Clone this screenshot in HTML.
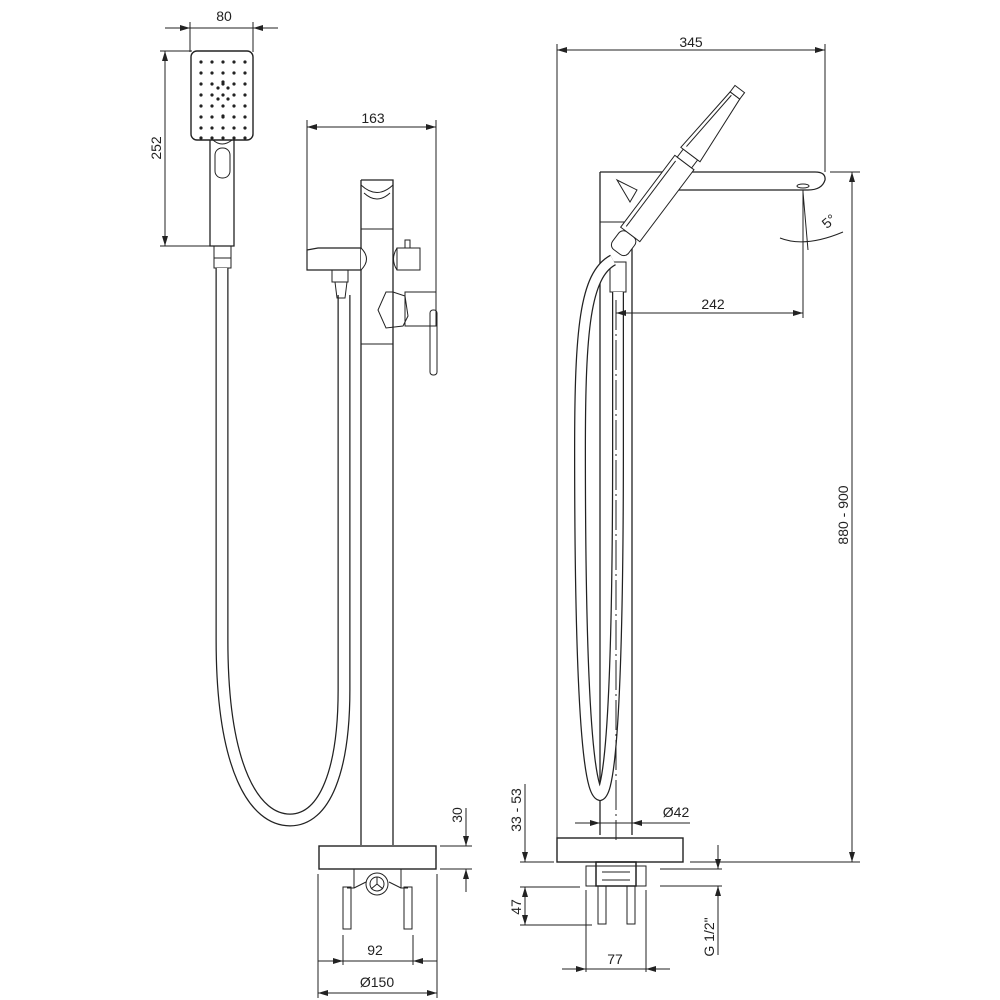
<!DOCTYPE html>
<html><head><meta charset="utf-8"><style>
html,body{margin:0;padding:0;background:#fff}
svg{display:block}
text{font-family:"Liberation Sans",sans-serif;font-size:14px;fill:#222}
</style></head><body>
<svg width="1000" height="1000" viewBox="0 0 1000 1000" xmlns="http://www.w3.org/2000/svg">
<defs>
<marker id="a" viewBox="0 0 10 6" refX="10" refY="3" markerWidth="10" markerHeight="6" orient="auto-start-reverse" markerUnits="userSpaceOnUse"><path d="M0,0 L10,3 L0,6z" fill="#222"/></marker>
</defs>
<g stroke="#222" stroke-width="1" fill="none">
<!-- ===== LEFT VIEW ===== -->
<line x1="190" y1="22" x2="190" y2="52"/><line x1="253" y1="22" x2="253" y2="52"/>
<line x1="165" y1="28" x2="190" y2="28" marker-end="url(#a)"/><line x1="278" y1="28" x2="253" y2="28" marker-end="url(#a)"/>
<line x1="190" y1="28" x2="253" y2="28"/>
<line x1="160" y1="51" x2="192" y2="51"/><line x1="160" y1="246" x2="212" y2="246"/>
<line x1="165" y1="51" x2="165" y2="246" marker-start="url(#a)" marker-end="url(#a)"/>
<rect x="191" y="51" width="62" height="89" rx="6" stroke-width="1.4"/>
<path d="M210,140 L210,246 L234,246 L234,140" stroke-width="1.3"/>
<path d="M213,140 Q222,148 232,140"/>
<rect x="215" y="148" width="15" height="30" rx="7"/>
<rect x="214" y="246" width="17" height="22"/>
<line x1="214" y1="258" x2="231" y2="258"/>
<path d="M222,268 L222,640 C222,770 255,820 290,820 C325,820 344,770 344,690 L344,295" stroke-width="13" stroke="#222"/>
<path d="M222,268 L222,640 C222,770 255,820 290,820 C325,820 344,770 344,690 L344,295" stroke-width="10.5" stroke="#fff"/>
<line x1="307" y1="120" x2="307" y2="250"/><line x1="436" y1="120" x2="436" y2="292"/>
<line x1="307" y1="127" x2="436" y2="127" marker-start="url(#a)" marker-end="url(#a)"/>
<path d="M361,180 L393,180 L393,845 M361,180 L361,845" stroke-width="1.3"/>
<path d="M361,185 Q377,200 393,185"/><path d="M364,193 Q377,205 390,193"/>
<line x1="361" y1="229" x2="393" y2="229"/><line x1="361" y1="344" x2="393" y2="344"/>
<path d="M307,250 L318,248 L361,248 L361,270 L318,270 L307,270z" stroke-width="1.2"/>
<path d="M361,248 Q372,259 361,270" fill="#fff"/>
<rect x="332" y="270" width="16" height="12"/><path d="M335,282 L337,298 L345,298 L347,282"/>
<rect x="397" y="248" width="23" height="22"/><rect x="405" y="240" width="5" height="8"/>
<path d="M397,248 Q390,259 397,270"/>
<path d="M393,292 L386,292 L378,310 L386,328 L403,326 L408,316 L405,296z"/>
<rect x="405" y="292" width="31" height="34"/>
<rect x="430" y="310" width="7" height="65" rx="3"/>
<rect x="319" y="846" width="117" height="23" stroke-width="1.4"/>
<path d="M354,869 L354,888 L347,888 M401,869 L401,888 L408,888 M354,888 L366,882 M401,888 L389,882"/>
<circle cx="377" cy="884" r="11"/><circle cx="377" cy="884" r="7"/>
<line x1="377" y1="877" x2="377" y2="884"/><line x1="377" y1="884" x2="371" y2="889"/><line x1="377" y1="884" x2="383" y2="889"/>
<rect x="343" y="887" width="8" height="42"/><rect x="404" y="887" width="8" height="42"/>
<line x1="440" y1="846" x2="472" y2="846"/><line x1="440" y1="869" x2="472" y2="869"/>
<line x1="466" y1="808" x2="466" y2="846" marker-end="url(#a)"/><line x1="466" y1="892" x2="466" y2="869" marker-end="url(#a)"/>
<line x1="343" y1="935" x2="343" y2="965"/><line x1="413" y1="935" x2="413" y2="965"/>
<line x1="318" y1="874" x2="318" y2="998"/><line x1="437" y1="874" x2="437" y2="998"/>
<line x1="318" y1="961" x2="343" y2="961" marker-end="url(#a)"/><line x1="437" y1="961" x2="413" y2="961" marker-end="url(#a)"/>
<line x1="343" y1="961" x2="413" y2="961"/>
<line x1="318" y1="993" x2="437" y2="993" marker-start="url(#a)" marker-end="url(#a)"/>

<!-- ===== RIGHT VIEW ===== -->
<line x1="557" y1="44" x2="557" y2="848"/><line x1="825" y1="44" x2="825" y2="172"/>
<line x1="557" y1="50" x2="825" y2="50" marker-start="url(#a)" marker-end="url(#a)"/>
<path d="M600,172 L815,172 Q826,172 825,180 Q822,190 808,190 L668,190" stroke-width="1.3"/>
<path d="M600,172 L600,835 M632,222 L632,835" stroke-width="1.3"/>
<line x1="600" y1="222" x2="632" y2="222"/>
<path d="M617,180 L637,190 L630,202z"/>
<ellipse cx="803" cy="186" rx="6" ry="2"/>
<g transform="translate(617,252) rotate(-53)" fill="#fff">
<rect x="0" y="-10" width="22" height="20" rx="6"/>
<rect x="22" y="-12" width="90" height="24"/>
<line x1="26" y1="-8" x2="108" y2="-8"/>
<rect x="112" y="-9" width="10" height="18"/>
<path d="M122,-12 L196,-6 L196,6 L122,12z"/>
<line x1="126" y1="-8" x2="194" y2="-3"/>
<rect x="196" y="-6" width="8" height="12"/>
</g>
<rect x="610" y="262" width="16" height="30"/>
<path d="M613,260 C585,275 580,330 580,450 C580,600 583,790 600,795 C615,790 618,600 618,450 L618,292" stroke-width="12"/>
<path d="M613,260 C585,275 580,330 580,450 C580,600 583,790 600,795 C615,790 618,600 618,450 L618,292" stroke-width="9.5" stroke="#fff"/>
<line x1="616" y1="300" x2="616" y2="840" stroke-dasharray="30,4,2,4"/>
<line x1="803" y1="190" x2="803" y2="318"/>
<line x1="616" y1="313" x2="803" y2="313" marker-start="url(#a)" marker-end="url(#a)"/>
<line x1="803" y1="192" x2="808" y2="250"/>
<path d="M780,238 Q805,248 843,232" />
<line x1="830" y1="172" x2="860" y2="172"/><line x1="690" y1="862" x2="860" y2="862"/>
<line x1="852" y1="172" x2="852" y2="862" marker-start="url(#a)" marker-end="url(#a)"/>
<rect x="557" y="838" width="126" height="24" stroke-width="1.4"/>
<line x1="575" y1="823" x2="600" y2="823" marker-end="url(#a)"/><line x1="690" y1="823" x2="632" y2="823" marker-end="url(#a)"/>
<line x1="600" y1="823" x2="632" y2="823"/>
<rect x="586" y="866" width="60" height="20"/>
<rect x="596" y="862" width="40" height="24" stroke-width="1.5"/>
<line x1="602" y1="872" x2="630" y2="872"/><line x1="602" y1="880" x2="630" y2="880"/>
<rect x="598" y="886" width="8" height="38"/><rect x="627" y="886" width="8" height="38"/>
<line x1="520" y1="862" x2="554" y2="862"/><line x1="520" y1="887" x2="580" y2="887"/><line x1="520" y1="925" x2="592" y2="925"/>
<line x1="525" y1="784" x2="525" y2="862" marker-end="url(#a)"/>
<line x1="525" y1="887" x2="525" y2="925" marker-start="url(#a)" marker-end="url(#a)"/>
<line x1="660" y1="869" x2="722" y2="869"/><line x1="660" y1="886" x2="722" y2="886"/><line x1="690" y1="862" x2="740" y2="862"/>
<line x1="718" y1="845" x2="718" y2="869" marker-end="url(#a)"/><line x1="718" y1="955" x2="718" y2="886" marker-end="url(#a)"/>
<line x1="586" y1="890" x2="586" y2="972"/><line x1="646" y1="890" x2="646" y2="972"/>
<line x1="562" y1="969" x2="586" y2="969" marker-end="url(#a)"/><line x1="670" y1="969" x2="646" y2="969" marker-end="url(#a)"/>
<line x1="586" y1="969" x2="646" y2="969"/>
</g>
<g fill="#222">
<g id="r"><circle cx="201" cy="62" r="1.6"/><circle cx="212" cy="62" r="1.6"/><circle cx="223" cy="62" r="1.6"/><circle cx="234" cy="62" r="1.6"/><circle cx="245" cy="62" r="1.6"/></g>
<use href="#r" y="11"/><use href="#r" y="22"/><use href="#r" y="33"/><use href="#r" y="44"/><use href="#r" y="55"/><use href="#r" y="66"/><use href="#r" y="76"/>
<circle cx="218" cy="88" r="1.6"/><circle cx="228" cy="88" r="1.6"/><circle cx="218" cy="99" r="1.6"/><circle cx="228" cy="99" r="1.6"/><circle cx="223" cy="82" r="1.6"/><circle cx="223" cy="116" r="1.6"/>
</g>
<text x="224" y="21" text-anchor="middle">80</text>
<text transform="translate(161,148) rotate(-90)" text-anchor="middle">252</text>
<text x="373" y="123" text-anchor="middle">163</text>
<text transform="translate(462,815) rotate(-90)" text-anchor="middle">30</text>
<text x="375" y="955" text-anchor="middle">92</text>
<text x="377" y="987" text-anchor="middle">Ø150</text>
<text x="691" y="47" text-anchor="middle">345</text>
<text x="713" y="309" text-anchor="middle">242</text>
<text transform="translate(832,225) rotate(-40)" text-anchor="middle">5°</text>
<text transform="translate(848,515) rotate(-90)" text-anchor="middle">880 - 900</text>
<text x="676" y="817" text-anchor="middle">Ø42</text>
<text transform="translate(521,810) rotate(-90)" text-anchor="middle">33 - 53</text>
<text transform="translate(521,907) rotate(-90)" text-anchor="middle">47</text>
<text transform="translate(714,937) rotate(-90)" text-anchor="middle">G 1/2"</text>
<text x="615" y="964" text-anchor="middle">77</text>
</svg>
</body></html>
